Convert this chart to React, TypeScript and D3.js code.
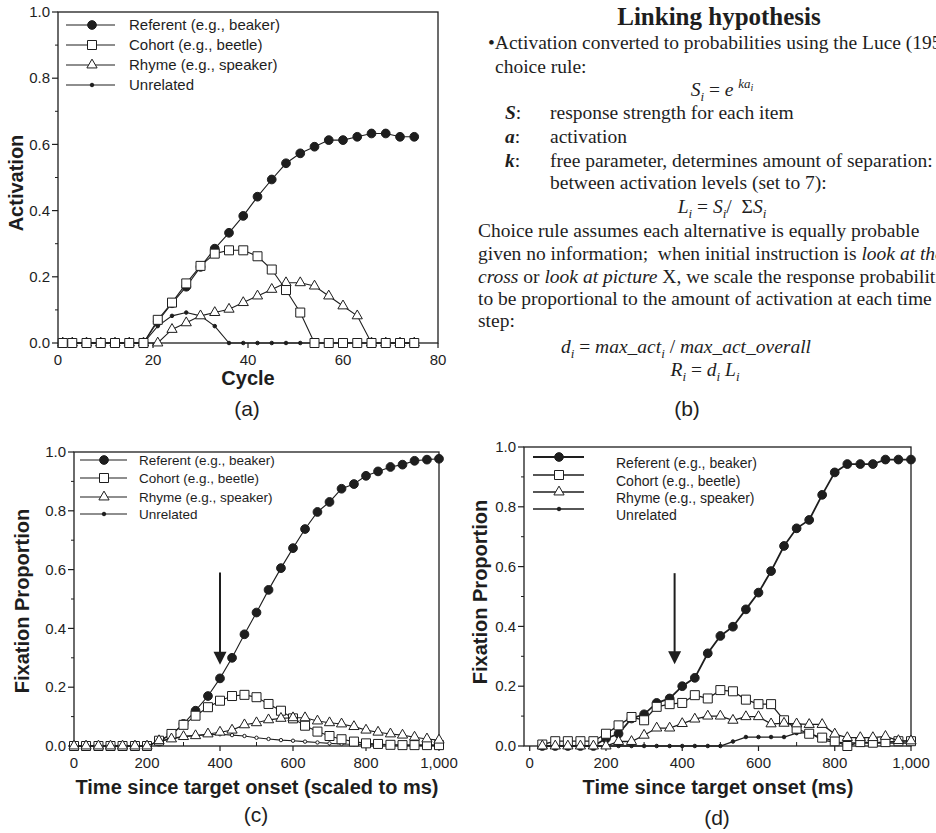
import React from 'react';
import * as d3 from 'd3';

// (a) simulated activation by processing cycle
const cycles = [1, 3, 6, 9, 12, 15, 18, 21, 24, 27, 30, 33, 36, 39, 42, 45, 48, 51, 54, 57, 60, 63, 66, 69, 72, 75];
const actReferent = [0, 0, 0, 0, 0, 0, 0, 0.065, 0.12, 0.17, 0.23, 0.285, 0.333, 0.384, 0.442, 0.494, 0.543, 0.573, 0.593, 0.613, 0.613, 0.623, 0.633, 0.633, 0.623, 0.623];
const actCohort = [0, 0, 0, 0, 0, 0, 0, 0.07, 0.122, 0.18, 0.233, 0.27, 0.28, 0.28, 0.262, 0.222, 0.16, 0.092, 0, 0, 0, 0, 0, 0, 0, 0];
const actRhyme = [0, 0, 0, 0, 0, 0, 0, 0, 0.041, 0.061, 0.082, 0.092, 0.102, 0.122, 0.142, 0.162, 0.182, 0.182, 0.172, 0.142, 0.112, 0.082, 0, 0, 0, 0];
const actUnrelated = [0, 0, 0, 0, 0, 0, 0, 0.051, 0.082, 0.092, 0.082, 0.051, 0, 0, 0, 0, 0, 0, 0, 0, 0, 0, 0, 0, 0, 0];

// (c) predicted fixation proportions (model time scaled to ms)
const scaledMs = [0, 33, 67, 100, 133, 167, 200, 233, 267, 300, 333, 367, 400, 433, 467, 500, 533, 567, 600, 633, 667, 700, 733, 767, 800, 833, 867, 900, 933, 967, 1000];
const predReferent = [0, 0, 0, 0, 0, 0, 0, 0.015, 0.04, 0.075, 0.12, 0.17, 0.23, 0.3, 0.38, 0.454, 0.531, 0.605, 0.673, 0.738, 0.796, 0.83, 0.875, 0.891, 0.919, 0.934, 0.949, 0.957, 0.97, 0.974, 0.977];
const predCohort = [0, 0, 0, 0, 0, 0, 0, 0.018, 0.041, 0.072, 0.103, 0.132, 0.154, 0.17, 0.174, 0.166, 0.143, 0.12, 0.094, 0.069, 0.049, 0.034, 0.023, 0.015, 0.009, 0.007, 0.004, 0.003, 0.003, 0.003, 0.003];
const predRhyme = [0, 0, 0, 0, 0, 0, 0, 0.018, 0.024, 0.032, 0.035, 0.041, 0.047, 0.054, 0.072, 0.079, 0.089, 0.094, 0.096, 0.096, 0.085, 0.079, 0.075, 0.066, 0.054, 0.047, 0.041, 0.037, 0.03, 0.024, 0.02];
const predUnrelated = [0, 0, 0, 0, 0, 0, 0, 0.015, 0.025, 0.033, 0.036, 0.038, 0.04, 0.037, 0.034, 0.028, 0.024, 0.02, 0.018, 0.015, 0.012, 0.009, 0.007, 0.006, 0.005, 0.004, 0.004, 0.003, 0.003, 0.003, 0.003];

// (d) observed fixation proportions
const obsMs = [33, 67, 100, 133, 167, 200, 233, 267, 300, 333, 367, 400, 433, 467, 500, 533, 567, 600, 633, 667, 700, 733, 767, 800, 833, 867, 900, 933, 967, 1000];
const obsReferent = [0, 0, 0, 0, 0, 0.025, 0.041, 0.092, 0.106, 0.144, 0.159, 0.2, 0.228, 0.31, 0.368, 0.399, 0.457, 0.513, 0.585, 0.669, 0.728, 0.756, 0.84, 0.915, 0.943, 0.943, 0.943, 0.958, 0.958, 0.958];
const obsCohort = [0.005, 0.016, 0.016, 0.016, 0.016, 0.041, 0.069, 0.097, 0.086, 0.131, 0.14, 0.144, 0.17, 0.159, 0.187, 0.183, 0.155, 0.14, 0.14, 0.086, 0.058, 0.041, 0.028, 0.016, 0, 0.013, 0.011, 0.013, 0.016, 0.016];
const obsRhyme = [0, 0, 0, 0, 0, 0, 0.015, 0.015, 0.036, 0.06, 0.06, 0.075, 0.09, 0.1, 0.1, 0.086, 0.098, 0.098, 0.074, 0.076, 0.074, 0.072, 0.072, 0.04, 0.028, 0.028, 0.028, 0.032, 0.018, 0.017];
const obsUnrelated = [0, 0, 0, 0, 0, 0, 0, 0, 0, 0, 0, 0, 0, 0, 0, 0.015, 0.03, 0.03, 0.03, 0.03, 0.043, 0.045, 0.02, 0.013, 0.01, 0.01, 0.01, 0.01, 0.01, 0.01];

const legendNames = ['Referent (e.g., beaker)', 'Cohort (e.g., beetle)', 'Rhyme (e.g., speaker)', 'Unrelated'];
const yTicks = [0, 0.2, 0.4, 0.6, 0.8, 1.0];
const yMinorTicks = [0.1, 0.3, 0.5, 0.7, 0.9];
const cycleTicks = [0, 20, 40, 60, 80];
const msTicks = [0, 200, 400, 600, 800, 1000];
const msMinorTicks = [100, 300, 500, 700, 900];

const INK = '#1e1e1e';
const SANS = '"Liberation Sans", Arial, Helvetica, sans-serif';
const SERIF = '"Liberation Serif", "Times New Roman", serif';

function symbolPath(kind) {
  if (kind === 'dot') return d3.symbol(d3.symbolCircle, 60)();
  if (kind === 'square') return d3.symbol(d3.symbolSquare, 81)();
  if (kind === 'triangle') return d3.symbol(d3.symbolTriangle, 45)();
  if (kind === 'ring') return d3.symbol(d3.symbolCircle, 9)();
  return d3.symbol(d3.symbolCircle, 10)();
}
const symbolFill = kind => (kind === 'square' || kind === 'triangle' || kind === 'ring' ? '#fff' : INK);

function Panel({ cfg }) {
  const x = d3.scaleLinear().domain(cfg.xDomain).range(cfg.xRange);
  const y = d3.scaleLinear().domain([0, 1]).range(cfg.yRange);
  const [left, right] = cfg.xRange;
  const [bottom, top] = cfg.yRange;
  const line = d3.line().x(d => x(d[0])).y(d => y(d[1]));
  const fmtY = d3.format('.1f');
  const fmtX = cfg.xFormat;
  const byName = {};
  cfg.series.forEach(s => (byName[s.name] = s));
  const lg = cfg.legend;

  return (
    <g fontFamily={SANS} fill={INK}>
      <rect x={left} y={top} width={right - left} height={bottom - top} fill="none" stroke={INK} strokeWidth={1.3} />
      {yTicks.map(t => (
        <g key={'y' + t}>
          <line x1={left - 6} x2={left} y1={y(t)} y2={y(t)} stroke={INK} strokeWidth={1.2} />
          <text x={left - 8} y={y(t)} dy="0.35em" textAnchor="end" fontSize={15}>{fmtY(t)}</text>
        </g>
      ))}
      {yMinorTicks.map(t => (
        <line key={'ym' + t} x1={left - 3} x2={left} y1={y(t)} y2={y(t)} stroke={INK} strokeWidth={1} />
      ))}
      {cfg.xTicks.map(t => (
        <g key={'x' + t}>
          <line x1={x(t)} x2={x(t)} y1={bottom} y2={bottom + 5} stroke={INK} strokeWidth={1.2} />
          <text x={x(t)} y={cfg.tickBaseline} textAnchor="middle" fontSize={15}>{fmtX(t)}</text>
        </g>
      ))}
      {cfg.xMinor.map(t => (
        <line key={'xm' + t} x1={x(t)} x2={x(t)} y1={bottom} y2={bottom - 4} stroke={INK} strokeWidth={1} />
      ))}

      {cfg.series.map(s => {
        const pts = d3.zip(s.xs, s.ys);
        return (
          <g key={s.name}>
            <path d={line(pts)} fill="none" stroke={INK} strokeWidth={s.width || 1.1} />
            {pts.map((d, i) => (
              <path key={i} d={symbolPath(s.kind)} transform={`translate(${x(d[0])},${y(d[1])})`}
                fill={symbolFill(s.kind)} stroke={INK} strokeWidth={1} />
            ))}
          </g>
        );
      })}

      {legendNames.map((n, i) => {
        const s = byName[n];
        const ly = lg.ys[i];
        const k = s.kind === 'ring' ? 'small' : s.kind;
        return (
          <g key={'lg' + n}>
            <line x1={lg.x0} x2={lg.x1} y1={ly} y2={ly} stroke={INK} strokeWidth={s.width || 1.1} />
            <path d={symbolPath(k)} transform={`translate(${lg.mx},${ly})`} fill={symbolFill(k)} stroke={INK} strokeWidth={1} />
            <text x={lg.tx} y={ly + lg.dy} dy="0.35em" fontSize={lg.size}>{n}</text>
          </g>
        );
      })}

      {cfg.arrow && (
        <g>
          <line x1={x(cfg.arrow.at)} x2={x(cfg.arrow.at)} y1={y(cfg.arrow.from)} y2={y(cfg.arrow.to) - 10}
            stroke={INK} strokeWidth={2} />
          <path d={`M${x(cfg.arrow.at)},${y(cfg.arrow.to)} l-6.5,-13 l13,0 Z`} fill={INK} />
        </g>
      )}

      <text x={cfg.xLabel.x} y={cfg.xLabel.y} textAnchor="middle" fontSize={20} fontWeight="bold">{cfg.xLabel.text}</text>
      <text transform={`translate(${cfg.yLabel.x},${cfg.yLabel.y}) rotate(-90)`} dy="0.35em" textAnchor="middle"
        fontSize={20} fontWeight="bold">{cfg.yLabel.text}</text>
      <text x={cfg.caption.x} y={cfg.caption.y} textAnchor="middle" fontSize={21}>{cfg.caption.text}</text>
    </g>
  );
}

const panelA = {
  xDomain: [0, 80], xRange: [58, 438], yRange: [343, 12],
  xTicks: cycleTicks, xMinor: [], xFormat: d => String(d), tickBaseline: 365,
  series: [
    { name: 'Unrelated', xs: cycles, ys: actUnrelated, kind: 'small' },
    { name: 'Referent (e.g., beaker)', xs: cycles, ys: actReferent, kind: 'dot' },
    { name: 'Rhyme (e.g., speaker)', xs: cycles, ys: actRhyme, kind: 'triangle' },
    { name: 'Cohort (e.g., beetle)', xs: cycles, ys: actCohort, kind: 'square' },
  ],
  legend: { x0: 66, x1: 115, mx: 92, tx: 129, ys: [25, 45, 65, 85], dy: 0, size: 15 },
  xLabel: { text: 'Cycle', x: 248, y: 385 },
  yLabel: { text: 'Activation', x: 16, y: 183 },
  caption: { text: '(a)', x: 247, y: 416 },
};

const panelC = {
  xDomain: [0, 1000], xRange: [74, 439], yRange: [746, 452],
  xTicks: msTicks, xMinor: msMinorTicks, xFormat: d3.format(','), tickBaseline: 768,
  series: [
    { name: 'Unrelated', xs: scaledMs, ys: predUnrelated, kind: 'ring' },
    { name: 'Referent (e.g., beaker)', xs: scaledMs, ys: predReferent, kind: 'dot' },
    { name: 'Cohort (e.g., beetle)', xs: scaledMs, ys: predCohort, kind: 'square' },
    { name: 'Rhyme (e.g., speaker)', xs: scaledMs, ys: predRhyme, kind: 'triangle' },
  ],
  legend: { x0: 80, x1: 127, mx: 104, tx: 139, ys: [460, 478, 497, 514], dy: 0, size: 13.5 },
  arrow: { at: 400, from: 0.59, to: 0.276 },
  xLabel: { text: 'Time since target onset (scaled to ms)', x: 257, y: 794 },
  yLabel: { text: 'Fixation Proportion', x: 22, y: 601 },
  caption: { text: '(c)', x: 256, y: 822 },
};

const panelD = {
  xDomain: [-15, 1000], xRange: [524, 911], yRange: [746, 447],
  xTicks: msTicks, xMinor: msMinorTicks, xFormat: d3.format(','), tickBaseline: 768,
  series: [
    { name: 'Unrelated', xs: obsMs, ys: obsUnrelated, kind: 'small', width: 1.3 },
    { name: 'Referent (e.g., beaker)', xs: obsMs, ys: obsReferent, kind: 'dot', width: 1.8 },
    { name: 'Cohort (e.g., beetle)', xs: obsMs, ys: obsCohort, kind: 'square', width: 1.3 },
    { name: 'Rhyme (e.g., speaker)', xs: obsMs, ys: obsRhyme, kind: 'triangle', width: 1.3 },
  ],
  legend: { x0: 533, x1: 584, mx: 559, tx: 616, ys: [457, 475, 492, 509], dy: 6, size: 14 },
  arrow: { at: 380, from: 0.578, to: 0.273 },
  xLabel: { text: 'Time since target onset (ms)', x: 718, y: 794 },
  yLabel: { text: 'Fixation Proportion', x: 480, y: 592 },
  caption: { text: '(d)', x: 717, y: 825 },
};

// subscript, shifted with baseline-shift so no spacer text is needed
function Sub({ children, size = 13 }) {
  return <tspan fontSize={size} fontStyle="italic" baselineShift="-5">{children}</tspan>;
}

function LinkingText() {
  const it = { fontStyle: 'italic' };
  return (
    <g fontFamily={SERIF} fontSize={19.5} fill={INK}>
      <text x={719} y={25} textAnchor="middle" fontSize={25} fontWeight="bold">Linking hypothesis</text>
      <text x={488} y={49}>•Activation converted to probabilities using the Luce (1959)</text>
      <text x={495} y={73}>choice rule:</text>
      <text x={722} y={96} textAnchor="middle" xmlSpace="preserve">
        <tspan style={it}>S</tspan><Sub>i</Sub><tspan> = </tspan><tspan style={it}>e </tspan>
        <tspan style={it} fontSize={13} baselineShift="8">ka<tspan fontSize={10} baselineShift="-3">i</tspan></tspan>
      </text>
      {[
        ['S', 'response strength for each item', 119],
        ['a', 'activation', 143],
        ['k', 'free parameter, determines amount of separation:', 167],
      ].map(([sym, txt, yy]) => (
        <g key={sym}>
          <text x={505} y={yy}><tspan fontWeight="bold" fontStyle="italic">{sym}</tspan>:</text>
          <text x={550} y={yy}>{txt}</text>
        </g>
      ))}
      <text x={550} y={189}>between activation levels (set to 7):</text>
      <text x={722} y={213} textAnchor="middle" xmlSpace="preserve">
        <tspan style={it}>L</tspan><Sub>i</Sub><tspan> = </tspan><tspan style={it}>S</tspan><Sub>i</Sub>
        <tspan>/  Σ</tspan><tspan style={it}>S</tspan><Sub>i</Sub>
      </text>
      <text x={478} y={237}>Choice rule assumes each alternative is equally probable</text>
      <text x={478} y={260} xmlSpace="preserve">given no information;  when initial instruction is <tspan style={it}>look at the</tspan></text>
      <text x={478} y={283}><tspan style={it}>cross</tspan> or <tspan style={it}>look at picture</tspan> X, we scale the response probabilities</text>
      <text x={478} y={305}>to be proportional to the amount of activation at each time</text>
      <text x={478} y={327}>step:</text>
      <text x={686} y={353} textAnchor="middle" style={it} xmlSpace="preserve">
        <tspan>d</tspan><Sub>i</Sub><tspan fontStyle="normal"> = </tspan><tspan>max_act</tspan><Sub>i</Sub>
        <tspan fontStyle="normal"> / </tspan><tspan>max_act_overall</tspan>
      </text>
      <text x={705} y={376} textAnchor="middle" style={it} xmlSpace="preserve">
        <tspan>R</tspan><Sub>i</Sub><tspan fontStyle="normal"> = </tspan><tspan>d</tspan><Sub>i</Sub><tspan> L</tspan><Sub>i</Sub>
      </text>
      <text x={687} y={416} textAnchor="middle" fontFamily={SANS} fontSize={21}>(b)</text>
    </g>
  );
}

export default function App() {
  return (
    <svg width={936} height={833} viewBox="0 0 936 833"
      style={{ position: 'absolute', left: 0, top: 0, background: '#fff' }}>
      <rect width={936} height={833} fill="#fff" />
      <Panel cfg={panelA} />
      <LinkingText />
      <Panel cfg={panelC} />
      <Panel cfg={panelD} />
    </svg>
  );
}
